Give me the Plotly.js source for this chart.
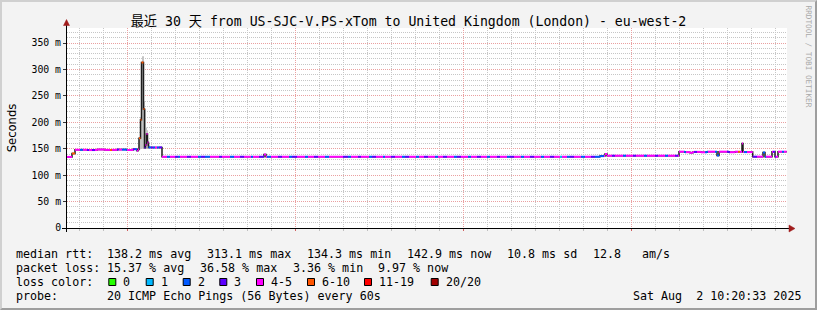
<!DOCTYPE html>
<html><head><meta charset="utf-8">
<script src="https://cdn.plot.ly/plotly-3.0.1.min.js"></script>
<style>
html,body{margin:0;padding:0;background:#f3f3f3;}
#wrap{position:relative;width:817px;height:310px;overflow:hidden;background:#f3f3f3;}
#chart{position:absolute;left:0;top:0;width:817px;height:310px;}
#frame{position:absolute;left:0;top:0;width:817px;height:310px;box-sizing:border-box;border-top:2px solid #d0d0d0;border-left:2px solid #d0d0d0;border-right:2px solid #9e9e9e;border-bottom:2px solid #9e9e9e;pointer-events:none;}
</style></head><body>
<div id="wrap"><div id="chart"></div><div id="frame"></div></div>
<script>
// ---- data (hours since the left edge of the 30-day window) ----
const rttStart = [0,5,8,20,30,38,50,60,66,70,71,72,73.5,74.5,76.5,77.5,78.5,79.5,80.5,81.5,95,197,199,533,538,540,612,618,623,626,634,640,650,652,662,668,675,676,685.7,696,698,705,708,711];
const rttValue = [134.5,141,148,147.5,148.5,147.8,148.3,147.6,148.8,146,148.5,170,205,313.1,225,152,157,178,162,152.5,134.8,139,134.8,136,140,136.8,144.4,143.5,142.5,144,143.2,144.4,137,144.4,143.4,144.4,160,143.6,135,143,135,144.4,135,144.4];
const endHour = 719.7;

const lossStart = [0,5,8,13,16,20,22,25,28,35,38,43,45,50,52,55,60,66,68,70,72,77.5,78.5,81.5,84,86,88,90,92,95,100,103,108,111,113,120,124,131,134,138,143,152,155,160,163,167,173,177,184,186,192,197,200,204,211,215,222,225,230,238,241,247,251,258,262,268,271,276,281,284,291,294,302,305,309,316,318,324,328,335,338,342,349,352,357,361,368,371,376,380,387,390,394,401,404,410,414,420,423,430,433,440,443,447,454,457,463,467,474,477,483,487,493,495,500,503,507,514,518,524,528,537,545,548,556,559,566,569,577,580,588,591,598,601,608,611,617,619,627,630,638,641,648,652,660,663,671,673,677,680,686,690,696,699,706,709,715,717];
const lossValue = [4,6,4,2,4,3,4,3,4,5,4,6,4,3,4,2,4,3,2,4,6,3,4,2,3,2,4,2,3,4,2,4,3,2,4,3,4,2,3,2,4,3,4,5,2,4,3,4,2,4,3,4,2,4,3,4,2,3,4,2,4,3,4,2,4,5,4,3,2,4,3,4,2,3,4,2,4,3,4,2,3,4,2,4,3,4,2,4,3,4,2,3,4,2,4,3,4,2,4,3,4,2,3,4,2,4,3,4,2,4,3,4,1,4,2,3,4,2,4,3,2,4,3,4,2,4,3,4,2,4,3,4,2,4,3,4,2,4,3,4,2,4,2,4,3,4,6,4,2,4,3,4,2,4,3,4,2,4];

const smokeHour = [71,72,73,74,75,76,77,78,79,80,81,82,83];
const smokeLow  = [147,148,149,150,150,150,150,150,150,150,150,150,151];
const smokeHigh = [152,172,210,300,325,325,240,225,190,185,165,156,153];

const lossLabels = ['0','1','2','3','4-5','6-10','11-19','20/20'];
const lossMax    = [0,1,2,3,5,10,19,20];
const lossColors = ['#26ff00','#00b8ff','#0059ff','#5e00ff','#ff00ff','#ff5500','#ff0000','#a10000'];

const weekLabels = ['Week 28','Week 29','Week 30','Week 31'];
const weekCenters = [144.6,312.6,480.6,648.6];
const weekStart = 60.6;

const yTickVals = [0,50,100,150,200,250,300,350];
const yTickText = ['0','50 m','100 m','150 m','200 m','250 m','300 m','350 m'];

const title = '最近 30 天 from US-SJC-V.PS-xTom to United Kingdom (London) - eu-west-2';
const statsRtt = [['median rtt:',16],['138.2 ms avg',107.3],['313.1 ms max',207.3],['134.3 ms min',307.3],['142.9 ms now',407.3],['10.8 ms sd',507.3],['12.8',593.3],['am/s',642.3]];
const statsLoss = [['packet loss:',16],['15.37 % avg',107.3],['36.58 % max',200],['3.36 % min',292.7],['9.97 % now',377.7]];
const boxX = [108.3,145.7,182.7,219.3,256,307,364,430.7];
const probeText = [['probe:',16],['20 ICMP Echo Pings (56 Bytes) every 60s',107.3]];
const dateText = 'Sat Aug  2 10:20:33 2025';

// ---- geometry helpers ----
const L = 67, T = 28, W = 720, H = 200;
const PX = x => (x - L) / W;
const PY = y => (T + H - y) / H;
const MONO = 'DejaVu Sans Mono, Noto Sans CJK SC, monospace';

function stepAt(starts, vals, h){ let v = vals[0]; for(let i=0;i<starts.length;i++){ if(starts[i] <= h) v = vals[i]; else break; } return v; }
function bucket(n){ for(let i=0;i<lossMax.length;i++) if(n <= lossMax[i]) return i; return lossMax.length-1; }

const traces = [];
// smoke
traces.push({x: smokeHour, y: smokeLow, mode:'lines', line:{width:0, shape:'hv'}, hoverinfo:'skip'});
traces.push({x: smokeHour, y: smokeHigh, mode:'lines', line:{width:0, shape:'hv'}, fill:'tonexty', fillcolor:'#c4c4c4', hoverinfo:'skip'});
// dark median line (vertical joins)
traces.push({x: rttStart.concat([endHour]), y: rttValue.concat([rttValue[rttValue.length-1]]), mode:'lines', line:{color:'#1e1e1e', width:1.5, shape:'hv'}, hoverinfo:'skip'});
// colored by loss
const bps = Array.from(new Set(rttStart.concat(lossStart).concat([endHour]))).filter(h=>h<=endHour).sort((a,b)=>a-b);
const bx = lossColors.map(()=>[]), by = lossColors.map(()=>[]);
for(let i=0;i<bps.length-1;i++){
  const a=bps[i], b=bps[i+1];
  const r = stepAt(rttStart, rttValue, a);
  const k = bucket(stepAt(lossStart, lossValue, a));
  bx[k].push(a,b,null); by[k].push(r,r,null);
}
lossColors.forEach((c,k)=>{ if(bx[k].length) traces.push({x:bx[k], y:by[k], mode:'lines', line:{color:c, width:2}, connectgaps:false, hoverinfo:'skip'}); });

const ann = [];
const txt = (s,x,y,o) => Object.assign({text:s, xref:'paper', yref:'paper', x:PX(x), y:PY(y), xanchor:'left', yanchor:'middle', showarrow:false, borderpad:0, borderwidth:0, font:{family:MONO, size:11.66, color:'#000'}}, o||{});
statsRtt.forEach(([s,x])=>ann.push(txt(s,x,254.3)));
statsLoss.forEach(([s,x])=>ann.push(txt(s,x,268.3)));
ann.push(txt('loss color:',16,282.3));
lossLabels.forEach((s,k)=>ann.push(txt(s, boxX[k]+14.8, 282.3)));
probeText.forEach(([s,x])=>ann.push(txt(s,x,296)));
ann.push(txt(dateText, 801, 296, {xanchor:'right'}));
ann.push(txt('RRDTOOL / TOBI OETIKER', 808.5, 56, {xanchor:'center', textangle:90, font:{family:MONO, size:7.7, color:'#a9a9a9'}}));

const shapes = [];
lossColors.forEach((c,k)=>shapes.push({type:'rect', xref:'paper', yref:'paper', x0:PX(boxX[k]+0.5), x1:PX(boxX[k]+7.5), y0:PY(278.5), y1:PY(285.5), fillcolor:c, line:{color:'#000', width:1}}));
// axis lines with arrows
shapes.push({type:'line', xref:'paper', yref:'paper', x0:PX(62), x1:PX(790), y0:PY(228.5), y1:PY(228.5), line:{color:'#000', width:1}});
shapes.push({type:'line', xref:'paper', yref:'paper', x0:PX(66.5), x1:PX(66.5), y0:PY(232), y1:PY(22), line:{color:'#000', width:1}});
shapes.push({type:'path', xref:'paper', yref:'paper', path:`M ${PX(789)},${PY(225)} L ${PX(795)},${PY(228.5)} L ${PX(789)},${PY(232)} Z`, fillcolor:'#a01c1c', line:{color:'#a01c1c', width:0.5}});
shapes.push({type:'path', xref:'paper', yref:'paper', path:`M ${PX(63.5)},${PY(25.5)} L ${PX(66.5)},${PY(19.5)} L ${PX(69.5)},${PY(25.5)} Z`, fillcolor:'#a01c1c', line:{color:'#a01c1c', width:0.5}});

const gridDash = '1px,1px';
const layout = {
  width:817, height:310,
  margin:{l:L, r:817-L-W, t:T, b:310-T-H, pad:0},
  paper_bgcolor:'rgba(0,0,0,0)', plot_bgcolor:'#ffffff',
  showlegend:false,
  title:{text:title, font:{family:MONO, size:13.2, color:'#000'}, x:0.5, xref:'container', xanchor:'center', y:1-21/310, yref:'container', yanchor:'middle'},
  xaxis:{range:[0,W], tickmode:'linear', tick0:weekStart, dtick:168, showgrid:true, gridcolor:'#eaa0a0', gridwidth:1, griddash:gridDash,
         ticks:'outside', ticklen:2, tickcolor:'#d06060', showticklabels:false, zeroline:false, showline:false, fixedrange:true,
         minor:{tickmode:'linear', tick0:weekStart, dtick:24, showgrid:true, gridcolor:'#c6c6c6', gridwidth:1, griddash:gridDash, ticks:'outside', ticklen:2, tickcolor:'#c0c0c0'}},
  xaxis2:{overlaying:'x', anchor:'y', side:'bottom', range:[0,W], tickmode:'array', tickvals:weekCenters, ticktext:weekLabels, showgrid:false, ticks:'', zeroline:false, showline:false, fixedrange:true,
         tickfont:{family:MONO, size:9.8, color:'#000'}},
  yaxis:{range:[0,378.4], tickmode:'array', tickvals:yTickVals, ticktext:yTickText, showgrid:true, gridcolor:'#eaa0a0', gridwidth:1, griddash:gridDash,
         ticks:'outside', ticklen:3, tickcolor:'#333', zeroline:false, showline:false, fixedrange:true,
         tickfont:{family:MONO, size:9.8, color:'#000'},
         minor:{tickmode:'linear', tick0:0, dtick:10, showgrid:true, gridcolor:'#c6c6c6', gridwidth:1, griddash:gridDash},
         title:{text:'Seconds', font:{family:'DejaVu Sans', size:11.6, color:'#000'}, standoff:12}},
  annotations:ann, shapes:shapes
};
Plotly.newPlot('chart', traces, layout, {staticPlot:true, displayModeBar:false});
</script>
</body></html>
